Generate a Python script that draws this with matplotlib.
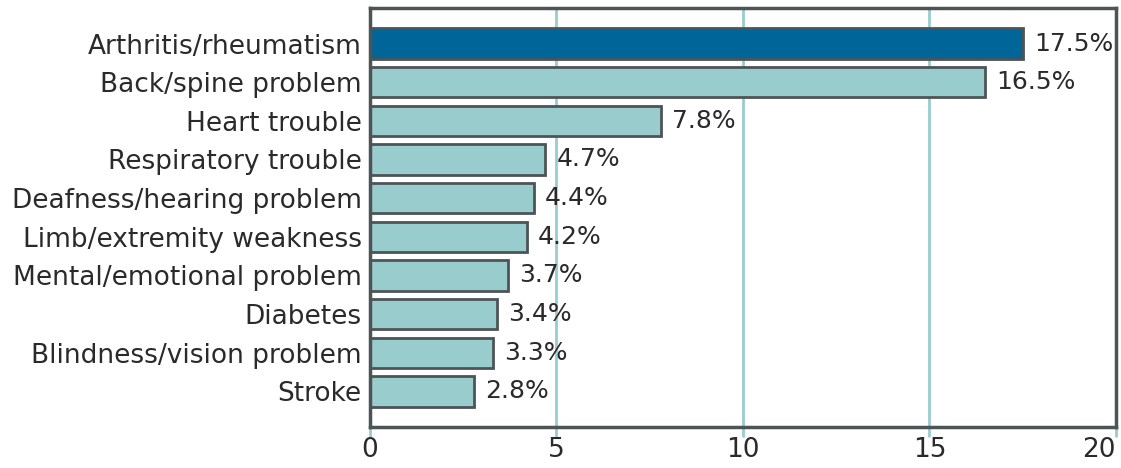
import matplotlib
matplotlib.use("Agg")
import matplotlib.pyplot as plt

# conditions, top to bottom
conditions = [
    "Arthritis/rheumatism",
    "Back/spine problem",
    "Heart trouble",
    "Respiratory trouble",
    "Deafness/hearing problem",
    "Limb/extremity weakness",
    "Mental/emotional problem",
    "Diabetes",
    "Blindness/vision problem",
    "Stroke",
]
percents = [17.5, 16.5, 7.8, 4.7, 4.4, 4.2, 3.7, 3.4, 3.3, 2.8]
xticks = [0, 5, 10, 15, 20]

TEAL = "#99cccc"
DARK_BLUE = "#006699"
EDGE = "#4d5456"
TEXT = "#2a2a2a"
FS = 19

plt.rcParams["font.family"] = ["DejaVu Sans"]

fig = plt.figure(figsize=(11.21, 4.68), dpi=100)
ax = fig.add_axes([0.330, 0.0876, 0.6655, 0.8954])

ypos = list(range(len(conditions)))
colors = [DARK_BLUE] + [TEAL] * (len(conditions) - 1)
ax.barh(ypos, percents, height=0.78, color=colors, edgecolor=EDGE,
        linewidth=2, zorder=3)

# value labels just past the end of each bar
for y, v in zip(ypos, percents):
    ax.text(v + 0.3, y, f"{v}%", va="center", ha="left",
            fontsize=18, color=TEXT, zorder=4)

ax.set_ylim(len(conditions) - 1 + 0.92, -0.92)
ax.set_xlim(0, 20)
ax.set_yticks(ypos)
ax.set_yticklabels(conditions, fontsize=FS, color=TEXT)
ax.set_xticks(xticks)
ax.set_xticklabels([str(t) for t in xticks], fontsize=FS, color=TEXT)
# keep the last tick label inside the figure
ax.get_xticklabels()[-1].set_horizontalalignment("right")

# vertical gridlines in teal, tick marks below the axis in the same colour
for t in xticks[1:-1]:
    ax.axvline(t, color=TEAL, linewidth=2, zorder=1)
ax.tick_params(axis="x", length=7, width=2, color=TEAL, pad=0)
ax.tick_params(axis="y", length=0, pad=6)

for side in ["top", "bottom", "left", "right"]:
    ax.spines[side].set_color(EDGE)
    ax.spines[side].set_linewidth(2.5)
    ax.spines[side].set_zorder(5)

fig.savefig("out.png", dpi=100)
